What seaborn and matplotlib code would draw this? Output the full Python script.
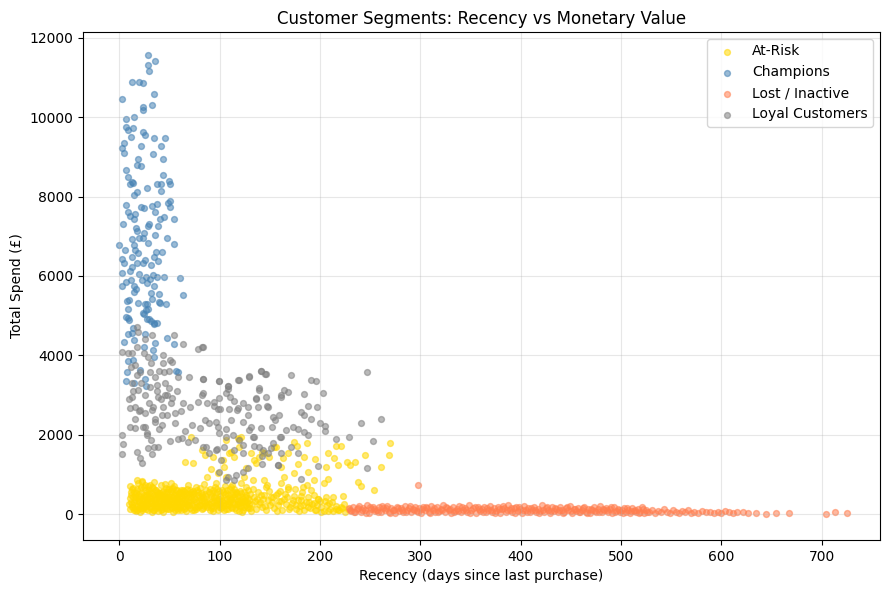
import pandas as pd
import matplotlib.pyplot as plt
import seaborn as sns

# (recency in days, total spend in £)
at_risk = [
    (11, 120), (12, 480), (13, 260), (14, 650), (15, 90), (16, 350), (17, 540), (18, 210), (19, 780), (20, 160),
    (12, 300), (14, 420), (16, 140), (18, 620), (20, 380), (11, 700), (13, 190), (15, 560), (17, 80), (19, 330),
    (21, 240), (22, 520), (23, 100), (24, 410), (25, 680), (26, 170), (27, 300), (28, 560), (29, 90), (30, 440),
    (21, 620), (22, 150), (23, 360), (24, 260), (25, 480), (26, 720), (27, 130), (28, 390), (29, 250), (30, 600),
    (21, 60), (23, 830), (25, 330), (27, 470), (29, 700),
    (31, 180), (32, 520), (33, 290), (34, 650), (35, 110), (36, 420), (37, 240), (38, 560), (39, 80), (40, 360),
    (31, 400), (32, 140), (33, 690), (34, 230), (35, 480), (36, 310), (37, 600), (38, 170), (39, 450), (40, 270),
    (31, 740), (33, 60), (35, 820), (37, 380), (39, 530),
    (41, 200), (42, 470), (43, 120), (44, 590), (45, 330), (46, 760), (47, 150), (48, 430), (49, 280), (50, 620),
    (41, 540), (42, 90), (43, 380), (44, 250), (45, 510), (46, 170), (47, 660), (48, 310), (49, 450), (50, 130),
    (42, 720), (44, 40), (46, 400), (48, 560), (50, 350),
    (51, 260), (52, 580), (53, 140), (54, 420), (55, 700), (56, 200), (57, 480), (58, 310), (59, 90), (60, 540),
    (51, 380), (52, 180), (53, 640), (54, 280), (55, 470), (56, 110), (57, 350), (58, 600), (59, 230), (60, 420),
    (52, 780), (54, 60), (56, 520), (58, 150), (60, 300),
    (61, 170), (62, 450), (63, 270), (64, 610), (65, 120), (66, 380), (67, 530), (68, 220), (69, 720), (70, 340),
    (61, 560), (62, 100), (63, 400), (64, 190), (65, 480), (66, 290), (67, 80), (68, 620), (69, 240), (70, 500),
    (71, 150), (72, 440), (73, 260), (74, 580), (75, 110), (76, 390), (77, 680), (78, 210), (79, 470), (80, 320),
    (71, 610), (73, 90), (75, 520), (77, 300), (79, 180),
    (81, 240), (82, 520), (83, 130), (84, 430), (85, 760), (86, 280), (87, 600), (88, 170), (89, 380), (90, 90),
    (81, 660), (83, 330), (85, 200), (87, 460), (89, 560),
    (91, 300), (92, 540), (93, 150), (94, 420), (95, 680), (96, 230), (97, 360), (98, 110), (99, 590), (100, 260),
    (91, 460), (93, 80), (95, 350), (97, 620), (99, 190),
    (101, 410), (102, 170), (103, 560), (104, 280), (105, 700), (106, 120), (107, 380), (108, 490), (109, 220), (110, 640),
    (102, 330), (104, 90), (106, 530), (108, 260), (110, 410),
    (111, 180), (112, 470), (113, 300), (114, 620), (115, 140), (116, 390), (117, 540), (118, 230), (119, 80), (120, 350),
    (112, 720), (114, 260), (116, 100), (118, 450), (120, 580),
    (121, 210), (122, 430), (123, 110), (124, 550), (125, 320), (126, 680), (127, 170), (128, 400), (129, 260), (130, 500),
    (122, 60), (124, 330), (126, 230), (128, 600), (130, 140),
    (132, 250), (134, 420), (136, 120), (138, 560), (140, 300), (142, 190), (144, 470), (146, 90), (148, 350), (150, 230),
    (133, 640), (137, 380), (141, 480), (145, 200), (149, 580), (131, 80), (139, 260), (147, 720),
    (152, 310), (154, 140), (156, 480), (158, 230), (160, 570), (162, 100), (164, 390), (166, 260), (168, 640), (170, 180),
    (153, 420), (157, 70), (161, 330), (165, 510), (169, 120),
    (172, 270), (174, 460), (176, 130), (178, 350), (180, 210), (182, 560), (184, 90), (186, 300), (188, 420), (190, 160),
    (175, 620), (179, 80), (183, 240), (187, 720),
    (192, 260), (195, 110), (198, 380), (201, 170), (204, 80), (207, 240), (210, 130), (213, 70), (216, 200), (219, 110),
    (222, 160), (225, 60), (228, 120), (194, 470), (200, 320), (206, 420), (212, 300), (218, 90), (224, 250),
    # second layer of the dense band
    (10, 250), (12, 560), (14, 180), (16, 470), (18, 90), (20, 300), (22, 680), (24, 140), (26, 420), (28, 230),
    (30, 520), (32, 330), (34, 110), (36, 600), (38, 270), (40, 470), (42, 180), (44, 390), (46, 290), (48, 120),
    (50, 500), (52, 250), (54, 650), (56, 350), (58, 440), (60, 160), (62, 610), (64, 320), (66, 140), (68, 480),
    (70, 230), (72, 560), (74, 360), (76, 170), (78, 600), (80, 240), (82, 380), (84, 150), (86, 500), (88, 310),
    (90, 640), (92, 200), (94, 300), (96, 520), (98, 250), (100, 450), (102, 600), (104, 360), (106, 230), (108, 120),
    (110, 300), (112, 160), (114, 430), (116, 560), (118, 330), (120, 200), (122, 300), (124, 180), (126, 480), (128, 150),
    (11, 400), (15, 300), (19, 480), (23, 250), (27, 600), (31, 290), (35, 380), (39, 200), (43, 560), (47, 230),
    (51, 440), (55, 170), (59, 380), (63, 520), (67, 330), (71, 270), (75, 420), (79, 560), (83, 480), (87, 220),
    (91, 150), (95, 460), (99, 380), (103, 240), (107, 600), (111, 380), (115, 500), (119, 280), (123, 380), (127, 300),
    (13, 620), (17, 420), (21, 450), (25, 200), (29, 380), (33, 460), (37, 140), (41, 330), (45, 420), (49, 640),
    (53, 330), (57, 600), (61, 300), (65, 580), (69, 420), (73, 500), (77, 130), (81, 420), (85, 320), (89, 250),
    (93, 600), (97, 270), (101, 150), (105, 500), (109, 330), (113, 560), (117, 250), (121, 520), (125, 420), (129, 350),
    (135, 330), (143, 380), (151, 420), (159, 330), (167, 420), (173, 360), (181, 450), (189, 300), (197, 230), (205, 330),
    # sparse upper part
    (118, 1907), (119, 1882), (109, 1529), (131, 1546), (134, 1361), (139, 1445), (144, 1546), (163, 1403),
    (168, 1529), (174, 1815), (177, 1714), (187, 1781), (184, 1445), (195, 1378), (208, 1529), (216, 1714),
    (221, 1714), (214, 1403), (218, 1235), (206, 1176), (227, 1319), (230, 1235), (235, 1319), (245, 1487),
    (261, 1176), (270, 1781), (269, 1487), (238, 815), (241, 706), (254, 605), (204, 773), (208, 874),
    (223, 454), (213, 437), (191, 605), (183, 689), (168, 689), (161, 773), (164, 941), (146, 689),
    (144, 857), (133, 857), (124, 941), (121, 773), (111, 689), (106, 941), (96, 773), (88, 941),
    (98, 1025), (104, 1193), (114, 1445), (93, 1445), (86, 1487), (154, 1697), (174, 1025), (178, 1260),
    (188, 1050), (194, 857), (158, 521), (181, 353), (176, 227), (188, 185), (196, 101), (201, 59),
    (208, 84), (216, 118), (221, 185), (209, 269), (198, 370), (194, 269),
    (72, 1932), (83, 1613), (66, 1302), (74, 1277), (18, 857), (23, 800), (91, 1125), (103, 1361),
    (111, 1571), (119, 1697), (106, 1865), (121, 1949), (126, 1151), (136, 1277), (142, 1571), (149, 1445),
    (156, 1697), (161, 1193),
]

champions = [
    (29, 11567), (36, 11416), (29, 11315), (30, 11156), (13, 10879), (20, 10879), (24, 10853), (35, 10584),
    (3, 10450), (24, 10248), (24, 10181), (33, 10298), (7, 9946), (15, 9996), (7, 9745), (9, 9677),
    (14, 9719), (24, 9618), (26, 9543), (12, 9493), (35, 9467), (46, 9467), (5, 9341), (3, 9215),
    (22, 9266), (42, 9266), (5, 9089), (34, 9072), (19, 8946), (44, 8946), (18, 8803), (22, 8778),
    (7, 8669), (9, 8500), (44, 8534), (13, 8374), (11, 8318), (14, 8335), (28, 8223), (38, 8318),
    (42, 8318), (50, 8402), (51, 8318), (42, 8132), (18, 8116), (15, 8039), (51, 7888), (49, 7829),
    (7, 7787), (38, 7804), (33, 7770), (22, 7736), (25, 7703), (51, 7736), (9, 7610), (36, 7610),
    (16, 7552), (11, 7518), (15, 7443), (45, 7476), (41, 7426), (55, 7426), (4, 7308), (30, 7316),
    (29, 7258), (17, 7215), (18, 7123), (39, 7250), (25, 7073), (36, 7022), (13, 6922), (20, 6947),
    (24, 6947), (48, 6947), (0, 6771), (29, 6821), (55, 6796), (15, 6771), (6, 6645), (16, 6645),
    (19, 6586), (37, 6594), (43, 6594), (3, 6418), (13, 6468), (26, 6393), (35, 6468), (39, 6385),
    (5, 6317), (18, 6317), (24, 6317), (32, 6275), (13, 6225), (3, 6081), (11, 6115), (20, 6040),
    (27, 5981), (34, 6031), (38, 5973), (45, 5973), (61, 5948), (3, 5754), (7, 5839), (12, 5889),
    (15, 5754), (17, 5670), (23, 5897), (28, 5830), (31, 5914), (35, 5754), (15, 5586), (64, 5510),
    (32, 5561), (40, 5536), (10, 5393), (19, 5325), (33, 5409), (40, 5351), (47, 5292), (9, 5174),
    (26, 5283), (29, 5174), (25, 5040), (7, 4956), (10, 4889), (30, 4906), (35, 4822), (38, 4805),
    (8, 5380), (28, 5292), (41, 5325), (24, 5056), (27, 5141), (9, 4931), (28, 4906), (32, 4872),
    (35, 4788), (14, 4679), (9, 4536), (13, 4570), (26, 4536), (5, 4343), (15, 4385), (48, 4427),
    (55, 4284), (36, 4318), (25, 4217), (34, 4133), (9, 3847), (14, 3881), (35, 3948), (8, 3587),
    (21, 3629), (57, 3604), (15, 3293), (7, 3352), (26, 3402), (27, 3226), (59, 3580),
]

lost_inactive = [
    (229, 140), (231, 80), (233, 180), (235, 40), (237, 120), (239, 200), (241, 60), (243, 150), (245, 90), (247, 220),
    (249, 30), (251, 130), (253, 190), (255, 70), (257, 110), (259, 170), (261, 40), (263, 140), (265, 90), (267, 210),
    (269, 60), (271, 160), (273, 110), (275, 30), (277, 190), (279, 80), (281, 140), (283, 50), (285, 200), (287, 100),
    (289, 160), (291, 40), (293, 120), (295, 180), (298, 730), (297, 70), (299, 140), (301, 30), (303, 190), (305, 90),
    (307, 150), (309, 60), (311, 210), (313, 110), (315, 40), (317, 170), (319, 80), (321, 130), (323, 220), (325, 50),
    (327, 150), (329, 100), (331, 30), (333, 180), (335, 70), (337, 130), (339, 200), (341, 40), (343, 110), (345, 160),
    (347, 60), (349, 230), (351, 90), (353, 140), (355, 30), (357, 190), (359, 80), (361, 120), (363, 170), (365, 50),
    (367, 100), (369, 210), (371, 40), (373, 150), (375, 80), (377, 190), (379, 30), (381, 120), (383, 160), (385, 60),
    (387, 220), (389, 100), (391, 40), (393, 140), (395, 180), (397, 70), (399, 120), (401, 30), (403, 200), (405, 90),
    (407, 150), (409, 50), (411, 110), (413, 190), (415, 40), (417, 130), (419, 80), (421, 220), (423, 60), (425, 150),
    (427, 100), (429, 30), (431, 170), (433, 80), (435, 130), (437, 50), (439, 190), (441, 110), (443, 40), (445, 150),
    (447, 90), (449, 200), (451, 30), (453, 120), (455, 70), (457, 160), (459, 40), (461, 110), (463, 180), (465, 60),
    (467, 130), (469, 30), (471, 90), (473, 170), (475, 50), (477, 120), (479, 200), (481, 40), (483, 100), (485, 150),
    (487, 60), (489, 120), (491, 30), (493, 180), (495, 80), (497, 130), (499, 40), (501, 110), (503, 160), (505, 60),
    (507, 100), (509, 30), (511, 140), (513, 80), (515, 40), (517, 120), (519, 60), (521, 170), (523, 30), (525, 90),
    (528, 50), (531, 110), (534, 30), (537, 80), (540, 40), (543, 120), (546, 60), (549, 30), (552, 90), (555, 50),
    (558, 20), (561, 70), (564, 40), (567, 100), (570, 30), (573, 60), (577, 20), (581, 80), (585, 40), (589, 60),
    (593, 20), (597, 50), (600, 30), (604, 70), (608, 40), (612, 20), (616, 50), (621, 60), (626, 30), (634, 20),
    (644, 10), (654, 20), (667, 35), (704, 10), (713, 40), (725, 20),
    (230, 100), (234, 60), (238, 160), (242, 110), (246, 30), (250, 180), (254, 120), (258, 50), (262, 200), (266, 140),
    (270, 20), (274, 90), (278, 150), (282, 100), (286, 60), (290, 210), (294, 90), (298, 40), (302, 120), (306, 170),
    (310, 20), (314, 140), (318, 60), (322, 90), (326, 190), (330, 120), (334, 50), (338, 80), (342, 190), (346, 100),
    (350, 20), (354, 170), (358, 120), (362, 60), (366, 150), (370, 90), (374, 30), (378, 120), (382, 200), (386, 90),
    (390, 140), (394, 20), (398, 170), (402, 100), (406, 50), (410, 160), (414, 90), (418, 30), (422, 110), (426, 190),
    (430, 70), (434, 140), (438, 100), (442, 20), (446, 180), (450, 80), (454, 130), (458, 60), (462, 160), (466, 30),
    (470, 120), (474, 80), (478, 40), (482, 130), (486, 90), (490, 170), (494, 50), (498, 100), (502, 20), (506, 140),
    (510, 70), (514, 100), (518, 30), (522, 120), (526, 60),
]

loyal_customers = [
    (3, 4074), (9, 4049), (18, 4704), (19, 4578), (33, 4511), (55, 4511), (64, 4284), (79, 4150), (83, 4200),
    (13, 4049), (25, 4049), (29, 3965), (44, 3814), (51, 3881), (53, 3839), (16, 3755), (21, 3587), (31, 3587),
    (36, 3461), (45, 3587), (59, 3461), (70, 3461), (84, 3394), (99, 3352), (119, 3377), (129, 3461), (141, 3604),
    (146, 3528), (13, 3293), (19, 3125), (31, 3209), (38, 3251), (50, 3167), (53, 2931), (39, 2956), (46, 2998),
    (13, 2956), (108, 3226), (139, 3167), (83, 2999), (99, 2922), (110, 2939), (136, 2897), (146, 2939), (161, 2939),
    (64, 2788), (71, 2688), (79, 2830), (88, 2788), (94, 2721), (100, 2637), (109, 2637), (118, 2662), (128, 2494),
    (138, 2688), (148, 2704), (153, 2452), (159, 2494), (11, 2662), (16, 2704), (21, 2620), (26, 2536), (33, 2620),
    (43, 2494), (48, 2494), (56, 2536), (11, 2200), (16, 2159), (26, 2200), (36, 2326), (43, 2242), (28, 1991),
    (32, 1865), (3, 1991), (4, 1764), (3, 1512), (18, 1554), (23, 1277), (21, 1411), (29, 1663), (35, 1697),
    (39, 1697), (33, 1512), (51, 1831), (59, 1890), (73, 2242), (81, 2159), (89, 2284), (99, 2032), (98, 2192),
    (106, 1949), (113, 1991), (119, 1865), (123, 1739), (129, 2116), (133, 1949), (139, 1697), (142, 1462),
    (148, 1529), (153, 1781), (158, 1243), (161, 1949), (76, 1865), (84, 1697), (89, 1529), (96, 1613),
    (104, 1697), (99, 1067), (106, 857), (116, 991), (63, 1907), (69, 1823),
    (84, 4217), (84, 3394), (99, 3352), (108, 3226), (118, 3377), (129, 3478), (141, 3603), (145, 3528),
    (171, 3503), (191, 3377), (196, 3352), (247, 3570), (84, 3041), (94, 2831), (98, 2637), (106, 3041),
    (108, 3142), (114, 2847), (117, 2620), (123, 2805), (128, 2688), (136, 2915), (139, 3125), (147, 2721),
    (161, 2999), (164, 3125), (168, 3083), (184, 3024), (188, 2721), (197, 2704), (203, 3041), (181, 2579),
    (184, 2495), (191, 2385), (200, 2301), (205, 2217), (205, 2100), (241, 2284), (261, 2385), (216, 1882),
    (229, 1932), (253, 1840), (247, 1151), (86, 2369), (96, 2326), (106, 2133), (111, 2369), (123, 2326),
    (131, 2200), (134, 1949), (141, 2159), (152, 2200), (155, 2369), (160, 1949), (166, 2116), (173, 2200),
    (178, 2133), (184, 2075), (188, 1991), (87, 1697), (97, 1646), (114, 1613), (123, 1529), (134, 1714),
    (143, 1613), (151, 1655), (161, 1529), (171, 1697), (178, 1529), (198, 1210), (158, 1235), (142, 1260),
    (128, 1151), (123, 1067), (181, 873), (108, 924), (114, 857), (101, 1361),
    (12, 3700), (18, 3500), (22, 3300), (26, 3000), (30, 2800), (34, 2700), (38, 3100), (42, 2900), (20, 2600),
    (16, 2400), (24, 2200), (28, 2050), (36, 2400), (40, 2150), (44, 2700), (48, 3000), (52, 2800), (14, 3100),
    (10, 2900), (32, 3800), (40, 3600), (46, 3300), (18, 4200), (26, 4400), (44, 4000), (50, 3600), (58, 3100),
    (62, 2600), (56, 2300), (66, 2100),
]

segments = ['At-Risk', 'Champions', 'Lost / Inactive', 'Loyal Customers']
segment_points = [at_risk, champions, lost_inactive, loyal_customers]
segment_colors = ['#FFD700', '#4682B4', '#FF7F50', '#808080']

frames = []
for nome, pontos in zip(segments, segment_points):
    df_seg = pd.DataFrame(pontos, columns=['recency', 'spend'])
    df_seg['segment'] = nome
    frames.append(df_seg)
df = pd.concat(frames, ignore_index=True)

fig, ax = plt.subplots(figsize=(8.89, 5.9), dpi=100)

for nome, cor in zip(segments, segment_colors):
    sub = df[df['segment'] == nome]
    sns.scatterplot(data=sub, x='recency', y='spend', color=cor, label=nome,
                    s=18, alpha=0.55, edgecolor='face', linewidth=1, ax=ax)

ax.set_xlim(-36, 758)
ax.set_ylim(-655, 12150)
ax.set_title('Customer Segments: Recency vs Monetary Value', fontsize=12)
ax.set_xlabel('Recency (days since last purchase)')
ax.set_ylabel('Total Spend (£)')
ax.grid(True, alpha=0.3)
ax.legend(loc='upper right')

fig.subplots_adjust(left=0.0934, right=0.9899, top=0.9458, bottom=0.0847)
plt.savefig('out.png', dpi=100)
